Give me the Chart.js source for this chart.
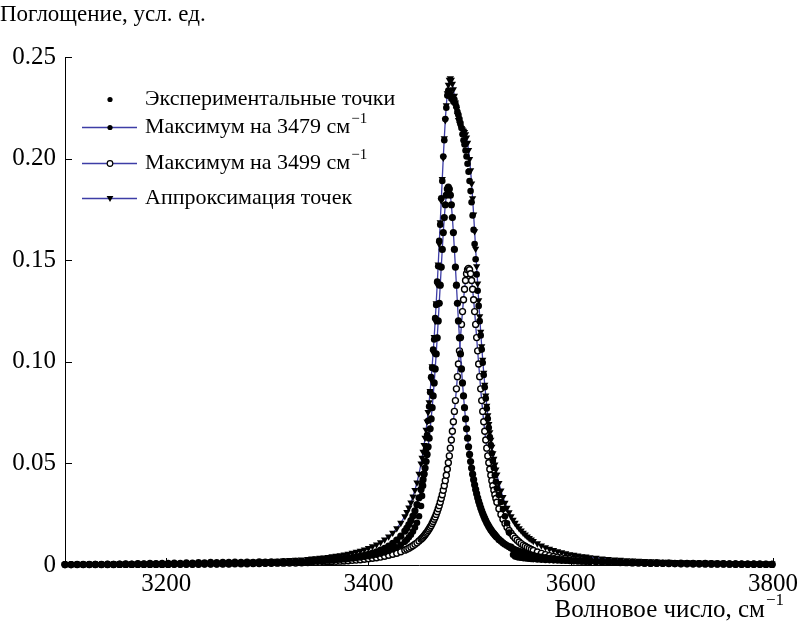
<!DOCTYPE html>
<html>
<head>
<meta charset="utf-8">
<script src="https://cdn.jsdelivr.net/npm/chart.js@4.4.1/dist/chart.umd.min.js"></script>
<style>
  body { margin: 0; background: #fff; }
  #wrap { width: 802px; height: 626px; }
</style>
</head>
<body>
<div id="wrap"><canvas id="myChart" width="802" height="626"></canvas></div>
<script>
// wave numbers, cm-1 (denser near the peaks)
const waveNumbers = [
  3100,3106,3112,3118,3124,3130,3136,3142,3148,3154,3160,3166,3172,3178,3184,3190,3196,3202,3208,3214,
  3220,3226,3232,3238,3244,3250,3256,3262,3268,3274,3280,3286,3292,3298,3304,3310,3316,3322,3328,3334,3340,
  3344,3348,3352,3356,3360,3364,3368,3372,3376,3380,3384,3388,3392,3396,3400,3404,3408,3412,3416,3420,3424,3428,3432,3436,
  3438,3440,3442,3444,3446,3448,3450,3452,
  3453,3454,3455,3456,3457,3458,3459,3460,3461,3462,3463,3464,3465,3466,3467,3468,3469,3470,3471,3472,
  3473,3474,3475,3476,3477,3478,3479,3480,3481,3482,3483,3484,3485,3486,3487,3488,3489,3490,3491,3492,
  3493,3494,3495,3496,3497,3498,3499,3500,3501,3502,3503,3504,3505,3506,3507,3508,3509,3510,3511,3512,
  3513,3514,3515,3516,3517,3518,3519,3520,3521,3522,3523,3524,3525,3526,3527,
  3529,3531,3533,3535,3537,3539,3541,3543,3545,3547,3549,3551,3553,3555,3557,3559,3561,3563,
  3567,3571,3575,3579,3583,3587,3591,3595,3599,3603,3607,3611,3615,3619,
  3625,3631,3637,3643,3649,3655,3661,3667,3673,3679,3685,3691,3697,3703,3709,3715,3721,3727,3733,3739,
  3745,3751,3757,3763,3769,3775,3781,3787,3793,3799
];

// Экспериментальные точки
const experimentalPoints = [
  0.0003,0.0002,0.0004,0.0003,0.0004,0.0005,0.0004,0.0006,0.0005,0.0006,0.0007,0.0006,0.0008,0.0007,0.0009,0.0008,0.0010,0.0009,0.0011,0.0010,
  0.0012,0.0011,0.0013,0.0012,0.0014,0.0013,0.0015,0.0014,0.0016,0.0015,0.0016,0.0015,0.0017,0.0016,0.0017,0.0016,0.0018,0.0017,0.0019,0.0018,0.0020,
  0.0019,0.0020,0.0021,0.0022,0.0023,0.0024,0.0025,0.0027,0.0028,0.0030,0.0032,0.0034,0.0037,0.0040,0.0043,0.0047,0.0051,0.0056,0.0062,0.0069,0.0077,0.0087,0.0099,0.0114,
  0.0124,0.0136,0.0149,0.0165,0.0185,0.0208,0.0240,0.0290,
  0.0340,0.0390,0.0450,0.0510,0.0570,0.0640,0.0710,0.0780,0.0850,0.0925,0.0970,0.1060,0.1110,0.1215,0.1280,0.1395,0.1470,0.1595,0.1675,0.1805,
  0.1890,0.2010,0.2090,0.2195,0.2250,0.2310,0.2335,0.2330,0.2315,0.2295,0.2300,0.2280,0.2290,0.2270,0.2255,0.2230,0.2215,0.2195,0.2175,0.2150,
  0.2120,0.2090,0.2070,0.2040,0.2010,0.1975,0.1935,0.1890,0.1840,0.1785,0.1720,0.1650,0.1580,0.1505,0.1430,0.1350,0.1275,0.1200,0.1130,0.1060,
  0.0995,0.0935,0.0875,0.0820,0.0770,0.0720,0.0675,0.0630,0.0590,0.0550,0.0512,0.0478,0.0442,0.0410,0.0378,
  0.0345,0.0310,0.0275,0.0240,0.0205,0.0160,0.0090,0.0050,0.0042,0.0039,0.0037,0.0036,0.0034,0.0033,0.0032,0.0031,0.0030,0.0029,
  0.0027,0.0026,0.0025,0.0024,0.0023,0.0022,0.0021,0.0021,0.0020,0.0019,0.0019,0.0018,0.0017,0.0017,
  0.0016,0.0015,0.0016,0.0014,0.0015,0.0013,0.0014,0.0012,0.0013,0.0011,0.0012,0.0010,0.0011,0.0010,0.0011,0.0009,0.0010,0.0008,0.0009,0.0008,
  0.0007,0.0008,0.0006,0.0007,0.0006,0.0005,0.0006,0.0005,0.0004,0.0005
];

// Максимум на 3479 см-1
const peak3479 = [
  0.0002,0.0002,0.0003,0.0003,0.0003,0.0003,0.0003,0.0003,0.0003,0.0003,0.0003,0.0003,0.0004,0.0004,0.0004,0.0004,0.0004,0.0004,0.0005,0.0005,
  0.0005,0.0005,0.0006,0.0006,0.0006,0.0006,0.0007,0.0007,0.0008,0.0008,0.0009,0.0009,0.0010,0.0010,0.0011,0.0012,0.0013,0.0014,0.0015,0.0016,0.0017,
  0.0018,0.0020,0.0021,0.0022,0.0024,0.0025,0.0027,0.0029,0.0031,0.0034,0.0037,0.0040,0.0044,0.0048,0.0053,0.0058,0.0065,0.0073,0.0082,0.0093,0.0106,0.0122,0.0142,0.0167,
  0.0182,0.0199,0.0219,0.0241,0.0267,0.0297,0.0331,0.0372,
  0.0395,0.0420,0.0447,0.0477,0.0509,0.0544,0.0582,0.0624,0.0670,0.0719,0.0774,0.0832,0.0896,0.0965,0.1039,0.1118,0.1201,0.1288,0.1377,0.1466,
  0.1553,0.1636,0.1710,0.1773,0.1820,0.1850,0.1860,0.1850,0.1820,0.1773,0.1710,0.1636,0.1553,0.1466,0.1377,0.1288,0.1201,0.1118,0.1039,0.0965,
  0.0896,0.0832,0.0774,0.0719,0.0670,0.0624,0.0582,0.0544,0.0509,0.0477,0.0447,0.0420,0.0395,0.0372,0.0351,0.0331,0.0313,0.0297,0.0281,0.0267,
  0.0253,0.0241,0.0229,0.0219,0.0208,0.0199,0.0190,0.0182,0.0174,0.0167,0.0160,0.0154,0.0148,0.0142,0.0136,
  0.0126,0.0118,0.0109,0.0102,0.0096,0.0090,0.0084,0.0079,0.0075,0.0071,0.0067,0.0063,0.0060,0.0057,0.0054,0.0052,0.0049,0.0047,
  0.0043,0.0039,0.0036,0.0033,0.0031,0.0029,0.0027,0.0025,0.0023,0.0022,0.0020,0.0019,0.0018,0.0017,
  0.0016,0.0015,0.0014,0.0013,0.0012,0.0011,0.0010,0.0010,0.0009,0.0008,0.0008,0.0008,0.0007,0.0007,0.0006,0.0006,0.0006,0.0006,0.0005,0.0005,
  0.0005,0.0005,0.0004,0.0004,0.0004,0.0004,0.0004,0.0004,0.0003,0.0003
];

// Максимум на 3499 см-1
const peak3499 = [
  0.0002,0.0002,0.0002,0.0002,0.0002,0.0002,0.0002,0.0002,0.0002,0.0003,0.0003,0.0003,0.0003,0.0003,0.0003,0.0003,0.0003,0.0003,0.0004,0.0004,
  0.0004,0.0004,0.0004,0.0005,0.0005,0.0005,0.0005,0.0005,0.0006,0.0006,0.0006,0.0007,0.0007,0.0008,0.0008,0.0009,0.0009,0.0010,0.0010,0.0011,0.0012,
  0.0013,0.0013,0.0014,0.0015,0.0016,0.0017,0.0018,0.0019,0.0020,0.0021,0.0023,0.0024,0.0026,0.0028,0.0031,0.0033,0.0036,0.0039,0.0043,0.0048,0.0053,0.0058,0.0065,0.0073,
  0.0078,0.0083,0.0089,0.0095,0.0102,0.0109,0.0118,0.0127,
  0.0132,0.0137,0.0143,0.0149,0.0156,0.0162,0.0170,0.0177,0.0186,0.0194,0.0204,0.0214,0.0225,0.0236,0.0249,0.0262,0.0277,0.0292,0.0309,0.0327,
  0.0346,0.0368,0.0390,0.0415,0.0442,0.0471,0.0503,0.0537,0.0575,0.0615,0.0658,0.0705,0.0756,0.0809,0.0867,0.0927,0.0989,0.1054,0.1119,0.1184,
  0.1247,0.1305,0.1357,0.1400,0.1433,0.1453,0.1460,0.1453,0.1433,0.1400,0.1357,0.1305,0.1247,0.1184,0.1119,0.1054,0.0989,0.0927,0.0867,0.0809,
  0.0756,0.0705,0.0658,0.0615,0.0575,0.0537,0.0503,0.0471,0.0442,0.0415,0.0390,0.0368,0.0346,0.0327,0.0309,
  0.0277,0.0249,0.0225,0.0204,0.0186,0.0170,0.0156,0.0143,0.0132,0.0122,0.0113,0.0105,0.0098,0.0092,0.0086,0.0081,0.0076,0.0071,
  0.0064,0.0057,0.0051,0.0046,0.0042,0.0039,0.0035,0.0033,0.0030,0.0028,0.0026,0.0024,0.0022,0.0021,
  0.0019,0.0017,0.0016,0.0015,0.0014,0.0013,0.0012,0.0011,0.0010,0.0009,0.0009,0.0008,0.0008,0.0007,0.0007,0.0007,0.0006,0.0006,0.0006,0.0005,
  0.0005,0.0005,0.0005,0.0004,0.0004,0.0004,0.0004,0.0004,0.0004,0.0003
];

// Аппроксимация точек
const fittedCurve = [
  0.0004,0.0004,0.0005,0.0005,0.0005,0.0005,0.0005,0.0005,0.0006,0.0006,0.0006,0.0006,0.0006,0.0007,0.0007,0.0007,0.0008,0.0008,0.0008,0.0009,
  0.0009,0.0009,0.0010,0.0010,0.0011,0.0011,0.0012,0.0013,0.0013,0.0014,0.0015,0.0016,0.0017,0.0018,0.0019,0.0020,0.0022,0.0024,0.0025,0.0027,0.0029,
  0.0031,0.0033,0.0035,0.0037,0.0039,0.0042,0.0045,0.0048,0.0051,0.0055,0.0060,0.0065,0.0070,0.0076,0.0083,0.0092,0.0101,0.0112,0.0125,0.0140,0.0158,0.0180,0.0207,0.0240,
  0.0260,0.0282,0.0307,0.0336,0.0369,0.0406,0.0449,0.0499,
  0.0527,0.0557,0.0590,0.0626,0.0665,0.0706,0.0752,0.0801,0.0856,0.0913,0.0978,0.1046,0.1121,0.1201,0.1288,0.1380,0.1478,0.1580,0.1686,0.1793,
  0.1899,0.2004,0.2100,0.2188,0.2262,0.2321,0.2363,0.2387,0.2395,0.2388,0.2368,0.2341,0.2309,0.2275,0.2244,0.2215,0.2190,0.2172,0.2158,0.2149,
  0.2143,0.2137,0.2131,0.2119,0.2103,0.2077,0.2042,0.1997,0.1942,0.1877,0.1804,0.1725,0.1642,0.1556,0.1470,0.1385,0.1302,0.1224,0.1148,0.1076,
  0.1009,0.0946,0.0887,0.0834,0.0783,0.0736,0.0693,0.0653,0.0616,0.0582,0.0550,0.0522,0.0494,0.0469,0.0445,
  0.0403,0.0366,0.0334,0.0306,0.0281,0.0259,0.0240,0.0222,0.0207,0.0193,0.0180,0.0169,0.0158,0.0149,0.0140,0.0132,0.0125,0.0118,
  0.0106,0.0096,0.0087,0.0080,0.0073,0.0067,0.0062,0.0057,0.0053,0.0050,0.0046,0.0043,0.0041,0.0038,
  0.0035,0.0032,0.0029,0.0027,0.0025,0.0023,0.0022,0.0020,0.0019,0.0018,0.0017,0.0016,0.0015,0.0014,0.0013,0.0013,0.0012,0.0011,0.0011,0.0010,
  0.0010,0.0009,0.0009,0.0009,0.0008,0.0008,0.0008,0.0007,0.0007,0.0007
];

const xTickValues = [3200, 3400, 3600, 3800];
const yTickValues = [0, 0.05, 0.10, 0.15, 0.20, 0.25];

const FONT = '"Liberation Serif", "Times New Roman", serif';
const LINE_BLUE = '#3d3da6';

function toPoints(values) {
  return waveNumbers.map((x, i) => ({ x: x, y: values[i] }));
}

// draws text, then a small raised part (the "-1" of cm-1) right after it
function textWithSup(ctx, text, sup, x, y, size, align) {
  ctx.font = size + 'px ' + FONT;
  let mainW = ctx.measureText(text).width;
  ctx.font = Math.round(size * 0.68) + 'px ' + FONT;
  let supW = ctx.measureText(sup).width;
  let x0 = align === 'right' ? x - mainW - supW - 1 : x;
  ctx.textAlign = 'left';
  ctx.textBaseline = 'middle';
  ctx.font = size + 'px ' + FONT;
  ctx.fillText(text, x0, y);
  if (sup) {
    ctx.font = Math.round(size * 0.68) + 'px ' + FONT;
    ctx.fillText(sup, x0 + mainW + 1, y - size * 0.38);
  }
}

function drawMarker(ctx, style, x, y) {
  ctx.beginPath();
  if (style === 'tri') {
    ctx.moveTo(x - 3.4, y - 2.4);
    ctx.lineTo(x + 3.4, y - 2.4);
    ctx.lineTo(x, y + 3.4);
    ctx.closePath();
    ctx.fillStyle = '#000';
    ctx.fill();
  } else {
    ctx.arc(x, y, style === 'dot' ? 2.6 : 2.8, 0, Math.PI * 2);
    ctx.fillStyle = style === 'open' ? '#fff' : '#000';
    ctx.fill();
    if (style === 'open') {
      ctx.strokeStyle = '#000';
      ctx.lineWidth = 1.2;
      ctx.stroke();
    }
  }
}

// inward ticks, axis titles and the legend box
const decorations = {
  id: 'decorations',
  beforeDatasetsDraw(chart) {
    let ctx = chart.ctx;
    let xs = chart.scales.x, ys = chart.scales.y;
    ctx.save();
    ctx.strokeStyle = '#000';
    ctx.lineWidth = 1;
    ctx.beginPath();
    yTickValues.forEach(v => {
      let y = Math.round(ys.getPixelForValue(v)) + 0.5;
      ctx.moveTo(xs.left, y);
      ctx.lineTo(xs.left + 7, y);
    });
    xTickValues.forEach(v => {
      let x = Math.round(xs.getPixelForValue(v)) + 0.5;
      ctx.moveTo(x, ys.bottom);
      ctx.lineTo(x, ys.bottom - 7);
    });
    ctx.stroke();
    ctx.restore();
  },
  afterDraw(chart) {
    let ctx = chart.ctx;
    ctx.save();
    ctx.fillStyle = '#000';
    textWithSup(ctx, 'Поглощение, усл. ед.', '', 0, 15, 23, 'left');
    textWithSup(ctx, 'Волновое число, см', '−1', 784, 610, 25, 'right');

    // legend
    let rows = [99, 127, 163, 198];
    let styles = ['dot', 'dot', 'open', 'tri'];
    chart.data.datasets.forEach((ds, i) => {
      let y = rows[i];
      if (i > 0) {
        ctx.strokeStyle = LINE_BLUE;
        ctx.lineWidth = 1.3;
        ctx.beginPath();
        ctx.moveTo(82, y + 0.5);
        ctx.lineTo(137, y + 0.5);
        ctx.stroke();
      }
      drawMarker(ctx, styles[i], 110, y + 0.5);
      let parts = ds.label.split('⁻¹');
      ctx.fillStyle = '#000';
      textWithSup(ctx, parts[0], parts.length > 1 ? '−1' : '', 145, y, 22, 'left');
    });
    ctx.restore();
  }
};

function buildChart() {
  let ctx = document.getElementById('myChart').getContext('2d');
  let myChart = new Chart(ctx, {
    type: 'scatter',
    data: {
      datasets: [
        {
          label: 'Экспериментальные точки',
          data: toPoints(experimentalPoints),
          showLine: false,
          clip: false,
          pointStyle: 'circle',
          pointRadius: 3.3,
          pointBackgroundColor: '#000',
          pointBorderColor: '#000',
          pointBorderWidth: 0
        },
        {
          label: 'Максимум на 3479 см⁻¹',
          data: toPoints(peak3479),
          showLine: true,
          clip: false,
          borderColor: LINE_BLUE,
          borderWidth: 1.3,
          pointStyle: 'circle',
          pointRadius: 3.6,
          pointBackgroundColor: '#000',
          pointBorderColor: '#000',
          pointBorderWidth: 0
        },
        {
          label: 'Максимум на 3499 см⁻¹',
          data: toPoints(peak3499),
          showLine: true,
          clip: false,
          borderColor: LINE_BLUE,
          borderWidth: 1.3,
          pointStyle: 'circle',
          pointRadius: 3,
          pointBackgroundColor: '#fff',
          pointBorderColor: '#000',
          pointBorderWidth: 1.4
        },
        {
          label: 'Аппроксимация точек',
          data: toPoints(fittedCurve),
          showLine: true,
          clip: false,
          borderColor: LINE_BLUE,
          borderWidth: 1.3,
          pointStyle: 'triangle',
          rotation: 180,
          pointRadius: 4.2,
          pointBackgroundColor: '#000',
          pointBorderColor: '#000',
          pointBorderWidth: 0
        }
      ]
    },
    options: {
      responsive: false,
      animation: false,
      layout: { padding: { left: 0, right: 29, top: 57, bottom: 0 } },
      plugins: {
        legend: { display: false },
        tooltip: { enabled: false }
      },
      scales: {
        x: {
          type: 'linear',
          min: 3100,
          max: 3800,
          afterBuildTicks: s => { s.ticks = xTickValues.map(v => ({ value: v })); },
          afterFit: s => { s.height = 61; },
          grid: { display: false, drawTicks: false },
          border: { display: true, color: '#000', width: 1 },
          ticks: {
            color: '#000',
            padding: 4,
            maxRotation: 0,
            font: { family: FONT, size: 25 },
            callback: v => String(v)
          }
        },
        y: {
          min: 0,
          max: 0.25,
          afterBuildTicks: s => { s.ticks = yTickValues.map(v => ({ value: v })); },
          afterFit: s => { s.width = 65; },
          grid: { display: false, drawTicks: false },
          border: { display: true, color: '#000', width: 1 },
          ticks: {
            color: '#000',
            padding: 9,
            font: { family: FONT, size: 25 },
            callback: v => v === 0 ? '0' : v.toFixed(2)
          }
        }
      }
    },
    plugins: [decorations]
  });
}

window.onload = function() {
  buildChart();
}
</script>
</body>
</html>
